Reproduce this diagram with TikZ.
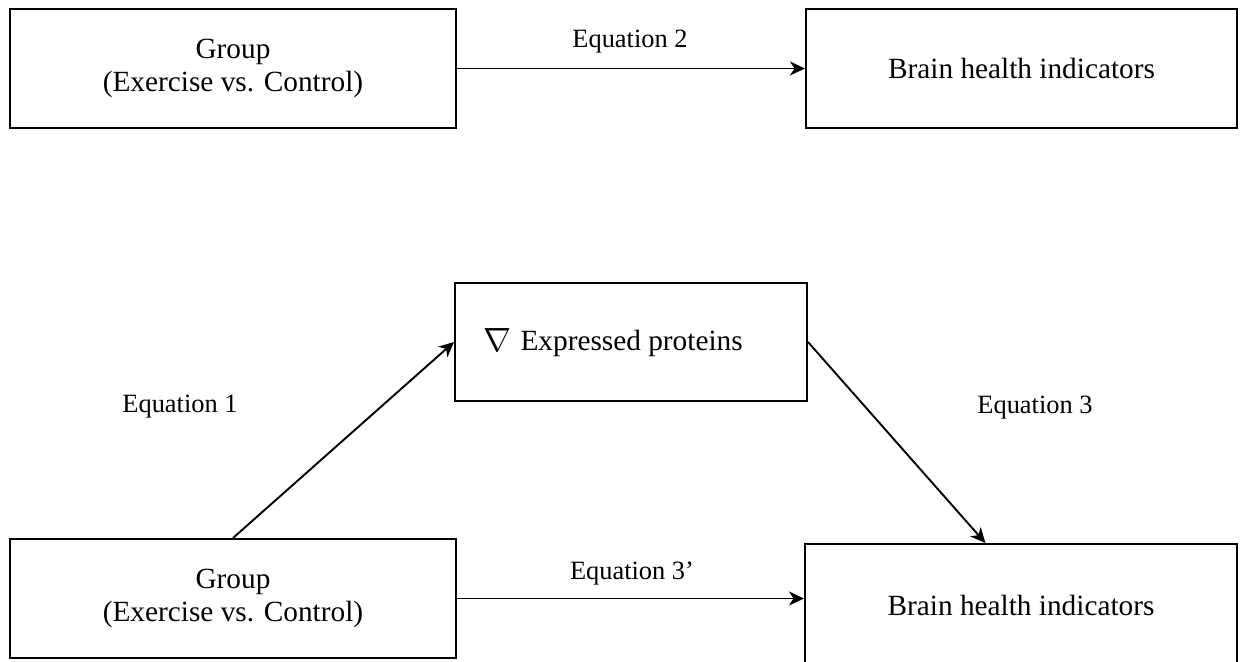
\documentclass[tikz,border=0pt]{standalone}
\usepackage{fontspec}
\setmainfont{Liberation Serif}
\usetikzlibrary{arrows.meta,calc}
\begin{document}
\begin{tikzpicture}[x=1pt,y=-1pt,
  box/.style={draw=black,line width=2pt,rectangle,inner sep=0pt,align=center,
    font=\fontsize{29.3}{33.7}\selectfont},
  lbl/.style={inner sep=0pt,anchor=base,font=\fontsize{26.4}{30}\selectfont},
  arr/.style={line width=1.9pt,-{Stealth[length=15pt,width=14pt,inset=4.5pt]}}]
\useasboundingbox (0,0) rectangle (1241,661);
% top row
\node[box,minimum width=446pt,minimum height=119pt] (tl) at (233,68.5) {Group\\(Exercise vs. Control)};
\node[box,minimum width=431pt,minimum height=119pt] (tr) at (1021.5,68.5) {Brain health indicators};
\draw[arr] (tl.east) -- (tr.west);
\node[lbl] (eq2) at (630,48) {Equation 2};
% bottom row
\node[box,minimum width=352pt,minimum height=118pt] (mid) at (631,342) {};
\node[inner sep=0pt,font=\fontsize{29.3}{33.7}\selectfont] (midtxt) at (613,343) {\raisebox{-1pt}{\scalebox{1.35}{$\nabla$}}\hspace{2pt} Expressed proteins};
\node[box,minimum width=446pt,minimum height=119pt] (bl) at (233,598.5) {Group\\(Exercise vs. Control)};
\node[box,minimum width=432pt,minimum height=122pt] (br) at (1021,605) {Brain health indicators};
\coordinate (brin) at ($(br.north west)!0.418!(br.north east)$);
\draw[arr] (bl.north) -- (mid.west);
\draw[arr] (mid.east) -- (brin);
\draw[arr] (bl.east) -- (bl.east -| br.west);
\node[lbl] (eq1) at (180,412) {Equation 1};
\node[lbl] (eq3) at (1035,413) {Equation 3};
\node[lbl] (eq3p) at (632,579) {Equation 3’};
\end{tikzpicture}
\end{document}
